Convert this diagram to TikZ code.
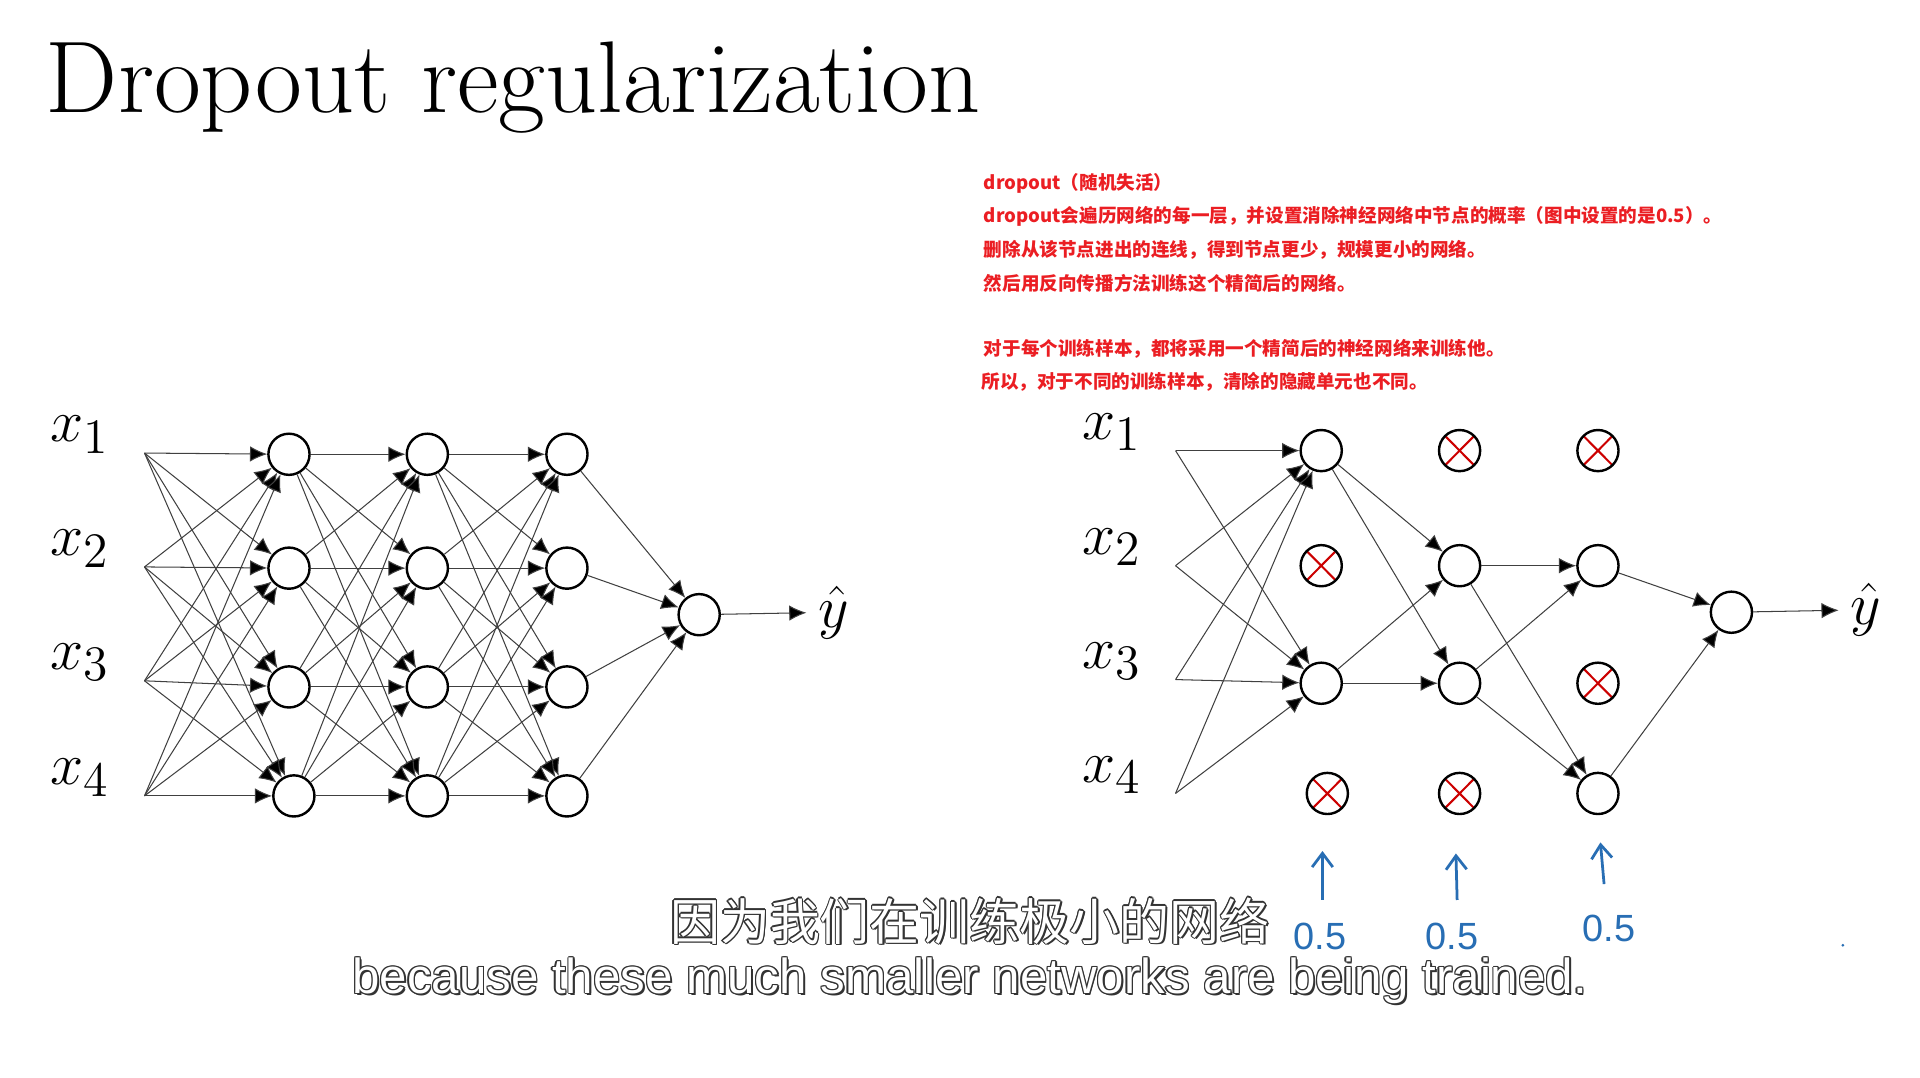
\documentclass[tikz,border=0pt]{standalone}
\usepackage{fontspec}
\setmainfont{Latin Modern Roman}
\newfontfamily\cjk{Noto Sans CJK SC}
\newfontfamily\arl{Liberation Sans}
\usetikzlibrary{arrows.meta}
\definecolor{redtxt}{RGB}{235,30,35}
\definecolor{hand}{RGB}{40,110,180}
\tikzset{
  neuron/.style={circle,draw,line width=0.7pt,fill=white,minimum size=0.42cm,inner sep=0pt},
  drop/.style={neuron,path picture={\draw[red!80!black,line width=0.6pt]
     ([shift={(0.09,0.09)}]path picture bounding box.south west) -- ([shift={(-0.09,-0.09)}]path picture bounding box.north east)
     ([shift={(0.09,-0.09)}]path picture bounding box.north west) -- ([shift={(-0.09,0.09)}]path picture bounding box.south east);}},
  conn/.style={line width=0.3pt,draw=black!75,-{Latex[length=5pt,width=4.5pt,fill=black]}},
  xl/.style={font=\fontsize{19}{20}\selectfont},
  red/.style={anchor=west,text=redtxt,font=\cjk\bfseries\fontsize{5.4}{6}\selectfont,inner sep=0pt},
  handarr/.style={draw=hand,line width=0.8pt,-{Straight Barb[length=4pt,width=6pt]}},
  handtxt/.style={text=hand,font=\arl\fontsize{11}{12}\selectfont},
  subcn/.style={font=\cjk\fontsize{14.5}{15}\selectfont},
  suben/.style={font=\arl\fontsize{14.3}{15}\selectfont}
}
\begin{document}
\begin{tikzpicture}[x=0.0125cm,y=-0.0125cm]
\useasboundingbox (0,0) rectangle (1568,880);
\fill[white] (0,0) rectangle (1568,880);
\node[anchor=base west,inner sep=0pt,font=\fontsize{29.6}{30}\selectfont] (title) at (37,92) {Dropout regularization};
% red notes
\node[red] (r1) at (803,150) {dropout（随机失活）};
\node[red] (r2) at (803,177) {dropout会遍历网络的每一层，并设置消除神经网络中节点的概率（图中设置的是0.5）。};
\node[red] (r3) at (803,204) {删除从该节点进出的连线，得到节点更少，规模更小的网络。};
\node[red] (r4) at (803,231) {然后用反向传播方法训练这个精简后的网络。};
\node[red] (r5) at (803,285) {对于每个训练样本，都将采用一个精简后的神经网络来训练他。};
\node[red] (r6) at (801,312) {所以，对于不同的训练样本，清除的隐藏单元也不同。};
% ===== left network
\foreach \i/\y in {1/370,2/463,3/556,4/650}{
  \node[xl] (lx\i) at (65,\y-15) {$x_{\i}$};
  \coordinate (li\i) at (118,\y);
}
\node[neuron] (la1) at (236,371) {}; \node[neuron] (la2) at (236,464) {};
\node[neuron] (la3) at (236,561) {}; \node[neuron] (la4) at (240,650) {};
\node[neuron] (lb1) at (349,371) {}; \node[neuron] (lb2) at (349,464) {};
\node[neuron] (lb3) at (349,561) {}; \node[neuron] (lb4) at (349,650) {};
\node[neuron] (lc1) at (463,371) {}; \node[neuron] (lc2) at (463,464) {};
\node[neuron] (lc3) at (463,561) {}; \node[neuron] (lc4) at (463,650) {};
\node[neuron] (lo) at (571,502) {};
\node[xl] (ly) at (681,500) {$\hat{y}$};
\foreach \i in {1,...,4}{\foreach \j in {1,...,4}{
  \draw[conn] (li\i) -- (la\j);
  \draw[conn] (la\i) -- (lb\j);
  \draw[conn] (lb\i) -- (lc\j);}
  \draw[conn] (lc\i) -- (lo);}
\draw[conn] (lo) -- (ly);
% ===== right network
\foreach \i/\y in {1/368,2/462,3/555,4/648}{
  \node[xl] (rx\i) at (908,\y-15) {$x_{\i}$};
  \coordinate (ri\i) at (960,\y);
}
\node[neuron] (ra1) at (1079,368) {}; \node[drop] (ra2) at (1079,462) {};
\node[neuron] (ra3) at (1079,558) {}; \node[drop] (ra4) at (1084,648) {};
\node[drop] (rb1) at (1192,368) {}; \node[neuron] (rb2) at (1192,462) {};
\node[neuron] (rb3) at (1192,558) {}; \node[drop] (rb4) at (1192,648) {};
\node[drop] (rc1) at (1305,368) {}; \node[neuron] (rc2) at (1305,462) {};
\node[drop] (rc3) at (1305,558) {}; \node[neuron] (rc4) at (1305,648) {};
\node[neuron] (ro) at (1414,500) {};
\node[xl] (ry) at (1524,498) {$\hat{y}$};
\foreach \i in {1,...,4}{\draw[conn] (ri\i) -- (ra1); \draw[conn] (ri\i) -- (ra3);}
\foreach \i in {1,3}{\foreach \j in {2,3}{\draw[conn] (ra\i) -- (rb\j);}}
\foreach \i in {2,3}{\foreach \j in {2,4}{\draw[conn] (rb\i) -- (rc\j);}}
\foreach \i in {2,4}{\draw[conn] (rc\i) -- (ro);}
\draw[conn] (ro) -- (ry);
% handwritten annotations
\coordinate (h1a) at (1080,735); \coordinate (h1b) at (1080,695);
\coordinate (h2a) at (1190,735); \coordinate (h2b) at (1189,697);
\coordinate (h3a) at (1310,722); \coordinate (h3b) at (1307,688);
\draw[handarr] (h1a) -- (h1b);
\draw[handarr] (h2a) -- (h2b);
\draw[handarr] (h3a) -- (h3b);
\node[handtxt] (p1) at (1078,765) {0.5};
\node[handtxt] (p2) at (1186,765) {0.5};
\node[handtxt] (p3) at (1314,758) {0.5};
\fill[hand] (1505,772) circle (1.2);
% subtitles
\foreach \dx/\dy in {-1/0,1/0,0/-1,0/1,-0.7/-0.7,0.7/0.7,-0.7/0.7,0.7/-0.7,1.2/1.2}{
  \node[text=black!80,subcn] at (792+\dx*1.1,752+\dy*1.1) {因为我们在训练极小的网络};
  \node[text=black!80,suben] at (792+\dx*1.1,801+\dy*1.1) {because these much smaller networks are being trained.};
}
\node[text=white,subcn] (sub1) at (792,752) {因为我们在训练极小的网络};
\node[text=white,suben] (sub2) at (792,801) {because these much smaller networks are being trained.};
\end{tikzpicture}
\end{document}
